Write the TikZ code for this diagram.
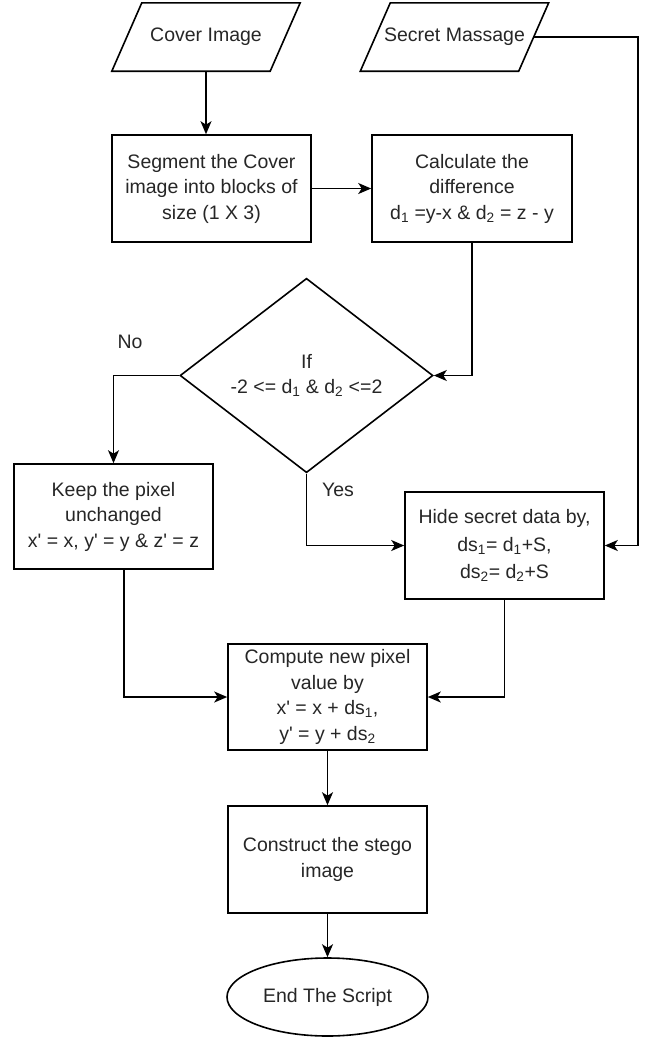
\documentclass[tikz,border=0pt]{standalone}
\usepackage{fontspec}
\setmainfont{Liberation Sans}
\usetikzlibrary{shapes.geometric,arrows.meta,calc}
\newcommand{\ap}{\textquotesingle}
\begin{document}
\begin{tikzpicture}[x=1pt,y=-1pt,
  every node/.style={font=\fontsize{19.5}{25.5}\selectfont, text=black!85},
  line/.style={draw=black, line width=1.6pt},
  arr/.style={line, -{Stealth[length=13pt,width=11pt,inset=3.5pt]}},
  box/.style={line, rectangle, align=center, inner sep=1pt, minimum width=199pt, minimum height=107pt},
  io/.style={rectangle, inner sep=0pt, minimum width=158pt, minimum height=68pt},
  dec/.style={line, diamond, align=center, inner sep=0pt, minimum width=253pt, minimum height=175pt},
  term/.style={line, ellipse, inner sep=0pt, minimum width=201pt, minimum height=78pt},
  lbl/.style={inner sep=0pt}]
\useasboundingbox (0,0) rectangle (654,1037);

\node[io] (cover) at (206,37) {Cover Image};
\node[io] (secret) at (454.5,37) {Secret Massage};
\foreach \n in {cover,secret}{
  \draw[line, line join=miter] ([xshift=-15pt]\n.south west) -- ([xshift=-15pt]\n.south east)
    -- ([xshift=15pt]\n.north east) -- ([xshift=15pt]\n.north west) -- cycle;
}
\node[box] (seg) at (211.5,188.5) {Segment the Cover\\image into blocks of\\size (1 X 3)};
\node[box, minimum width=200pt] (calc) at (472,188.5) {Calculate the\\difference\\d\textsubscript{1} =y-x \& d\textsubscript{2} = z - y};
\node[dec] (cond) at (306.5,375.5) {If\\-2 <= d\textsubscript{1} \& d\textsubscript{2} <=2};
\node[box, minimum height=105pt] (keep) at (113.5,516.5) {Keep the pixel\\unchanged\\x\ap{} = x, y\ap{} = y \& z\ap{} = z};
\node[box] (hide) at (504.5,545.5) {Hide secret data by,\\[2pt]ds\textsubscript{1}= d\textsubscript{1}+S,\\[2pt]ds\textsubscript{2}= d\textsubscript{2}+S};
\node[box, minimum height=106pt] (comp) at (327.5,697) {Compute new pixel\\value by\\x\ap{} = x + ds\textsubscript{1},\\y\ap{} = y + ds\textsubscript{2}};
\node[box] (cons) at (327.5,859.5) {Construct the stego\\image};
\node[term] (end) at (327.5,997) {End The Script};

\node[lbl] (no) at (130,342) {No};
\node[lbl] (yes) at (338,490) {Yes};

\coordinate (sr) at (638,37);

\draw[arr] (cover.south) -- (cover.south |- seg.north);
\draw[arr] (seg.east) -- (calc.west);
\draw[arr] (calc.south) |- (cond.east);
\draw[arr] (cond.west) -| (keep.north);
\draw[arr] (cond.south) |- (hide.west);
\draw[arr] (secret.east) -- (sr) |- (hide.east);
\draw[arr] ([xshift=10.5pt]keep.south) |- (comp.west);
\draw[arr] (hide.south) |- (comp.east);
\draw[arr] (comp.south) -- (cons.north);
\draw[arr] (cons.south) -- (end.north);
\end{tikzpicture}
\end{document}
